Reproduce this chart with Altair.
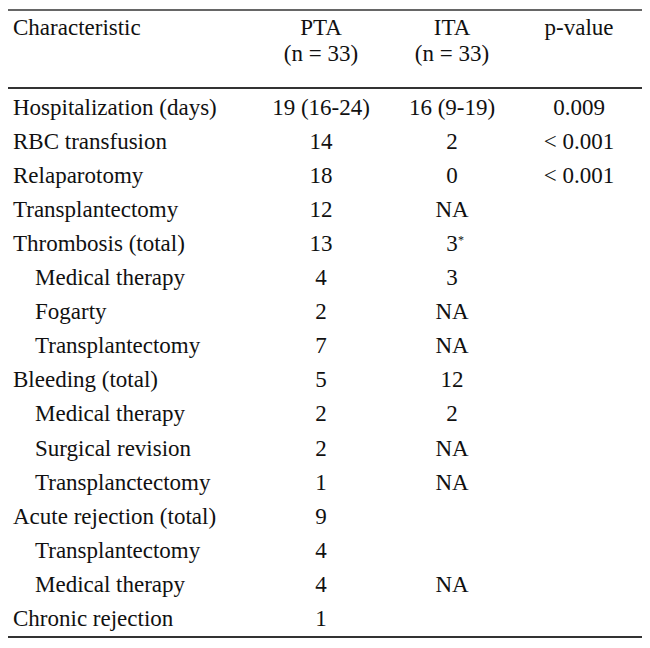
import altair as alt
import pandas as pd

# ---- data ----
labels = ["Hospitalization (days)", "RBC transfusion", "Relaparotomy", "Transplantectomy",
          "Thrombosis (total)", "Medical therapy", "Fogarty", "Transplantectomy",
          "Bleeding (total)", "Medical therapy", "Surgical revision", "Transplanctectomy",
          "Acute rejection (total)", "Transplantectomy", "Medical therapy", "Chronic rejection"]
indented = [False, False, False, False, False, True, True, True,
            False, True, True, True, False, True, True, False]
pta = ["19 (16-24)", "14", "18", "12", "13", "4", "2", "7", "5", "2", "2", "1", "9", "4", "4", "1"]
ita = ["16 (9-19)", "2", "0", "NA", "3", "3", "NA", "NA", "12", "2", "NA", "NA", "", "", "NA", ""]
ita_note = ["", "", "", "", "*", "", "", "", "", "", "", "", "", "", "", ""]
pval = ["0.009", "< 0.001", "< 0.001", "", "", "", "", "", "", "", "", "", "", "", "", ""]

header_top = ["Characteristic", "PTA", "ITA", "p-value"]
header_top_cols = ["label", "PTA", "ITA", "p"]
header_sub = ["", "(n = 33)", "(n = 33)", ""]

# ---- layout ----
W, H = 634, 630
FONT = "Liberation Serif"
FS = 23
COLOR = "#111111"
COLS = ["label", "indent", "PTA", "ITA", "p"]
COL_X = [5, 27, 313, 444, 571]
row_rules = [-2.067, 0.22, 16.32]
rule_widths = [1.5, 2.0, 2.2]
HEAD1, HEAD2 = -1.334, -0.572

cells = []
for i, lab in enumerate(labels):
    r = i + 1
    cells.append({"row": r, "col": "indent" if indented[i] else "label", "text": lab, "align": "left"})
    cells.append({"row": r, "col": "PTA", "text": pta[i], "align": "center"})
    cells.append({"row": r, "col": "ITA", "text": ita[i], "align": "center"})
    cells.append({"row": r, "col": "p", "text": pval[i], "align": "center"})
for t, c in zip(header_top, header_top_cols):
    cells.append({"row": HEAD1, "col": c, "text": t, "align": "left" if c == "label" else "center"})
for t, c in zip(header_sub, header_top_cols):
    if t:
        cells.append({"row": HEAD2, "col": c, "text": t, "align": "center"})
df = pd.DataFrame(cells)
df = df[df["text"] != ""].copy()
df["ci"] = df["col"].map(COLS.index)

notes = pd.DataFrame([{"row": i + 1, "ci": COLS.index("ITA"), "text": n}
                      for i, n in enumerate(ita_note) if n])
rules = pd.DataFrame({"row": row_rules, "w": rule_widths})

yscale = alt.Scale(domain=[-2.126, 16.349], reverse=True, nice=False, zero=False)
xscale = alt.Scale(domain=list(range(len(COLS))), range=COL_X, nice=False, zero=False)

def text_layer(data, align, fs=FS, dx=0, dy=0):
    return alt.Chart(data).mark_text(
        align=align, baseline="alphabetic", font=FONT, fontSize=fs, color=COLOR, dx=dx, dy=dy
    ).encode(
        x=alt.X("ci:Q", scale=xscale, axis=None),
        y=alt.Y("row:Q", scale=yscale, axis=None),
        text="text:N",
    )

left = text_layer(df[df["align"] == "left"], "left")
center = text_layer(df[df["align"] == "center"], "center")
note = text_layer(notes, "left", fs=12, dx=6, dy=-7)

lines = alt.Chart(rules).mark_rule(color="#333333").encode(
    x=alt.value(0), x2=alt.value(W),
    y=alt.Y("row:Q", scale=yscale, axis=None),
    strokeWidth=alt.StrokeWidth("w:Q", scale=None, legend=None),
)

chart = alt.layer(lines, left, center, note).properties(
    width=W, height=H, padding=0, autosize=alt.AutoSizeParams(type="none"),
    background="white",
).configure_view(stroke=None)

chart.save("out.html", embed_options={"renderer": "svg", "actions": False})
